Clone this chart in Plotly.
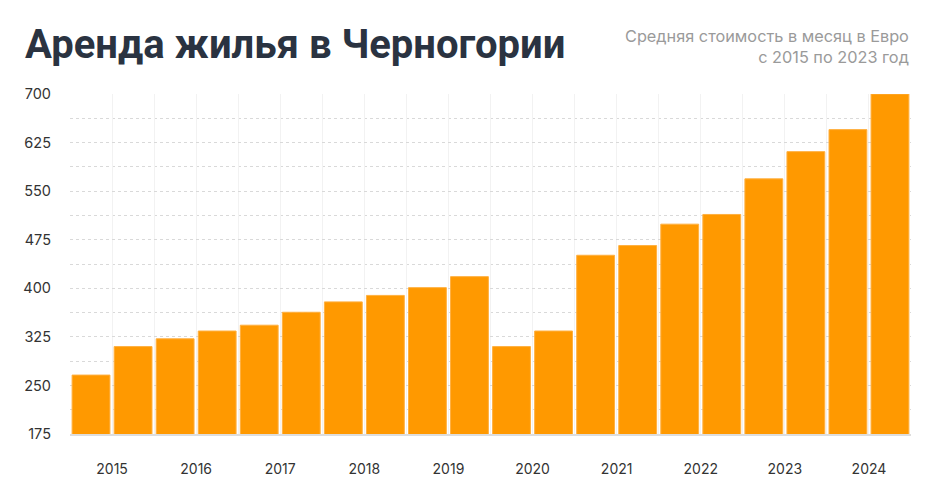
import plotly.graph_objects as go

years = [2015, 2016, 2017, 2018, 2019, 2020, 2021, 2022, 2023, 2024]
values = [266, 310, 322, 334, 343, 363, 379, 389, 401, 418,
          310, 334, 451, 466, 499, 514, 569, 611, 645, 700]
y_ticks = [175, 250, 325, 400, 475, 550, 625, 700]

title_text = "Аренда жилья в Черногории"
subtitle_text = "Средняя стоимость в месяц в Евро<br>с 2015 по 2023 год"

x_pos = list(range(len(values)))
boundaries = [i - 0.5 for i in range(len(values) + 1)]
tick_text = []
for i, b in enumerate(boundaries):
    if i % 2 == 1:
        tick_text.append(str(years[i // 2]))
    else:
        tick_text.append("")

fig = go.Figure()
fig.add_trace(go.Bar(
    x=x_pos, y=values,
    marker=dict(color="#FF9900", line=dict(color="#FFB040", width=1)),
    hoverinfo="y",
))

fig.update_layout(
    width=935, height=486,
    margin=dict(l=62, r=32, t=86, b=60),
    paper_bgcolor="white", plot_bgcolor="white",
    bargap=0.1,
    showlegend=False,
    font=dict(family="Inter, Roboto, sans-serif", color="#333333", size=14),
    annotations=[
        dict(text=title_text, xref="paper", yref="paper", x=-0.0556, y=1.0,
             yshift=50, xanchor="left", yanchor="middle", showarrow=False,
             font=dict(family="Roboto, Inter, sans-serif", size=40, color="#2A3341", weight="bold")),
        dict(text=subtitle_text, xref="paper", yref="paper", x=1.0, y=1.0,
             yshift=48, xanchor="right", yanchor="middle", align="right",
             showarrow=False,
             font=dict(family="Inter, Roboto, sans-serif", size=16.3, color="#9A9A9A")),
    ],
)

fig.update_xaxes(
    range=[-0.5, len(values) - 0.5],
    tickvals=boundaries, ticktext=tick_text,
    showgrid=True, gridcolor="#F2F2F2", gridwidth=1,
    showline=True, linecolor="#DDDDDD", linewidth=2,
    ticks="", ticklabelstandoff=21,
    tickfont=dict(size=14, color="#333333"),
    zeroline=False,
)
fig.update_yaxes(
    range=[175, 700],
    tickvals=y_ticks,
    showgrid=True, gridcolor="#D9D9D9", gridwidth=1, griddash="dot",
    minor=dict(dtick=37.5, tick0=175, showgrid=True, gridcolor="#D9D9D9", griddash="dot", gridwidth=1),
    ticks="", zeroline=False, showline=False, ticklabelstandoff=18,
    tickfont=dict(size=14.5, color="#333333"),
)

fig.write_html("out.html")
